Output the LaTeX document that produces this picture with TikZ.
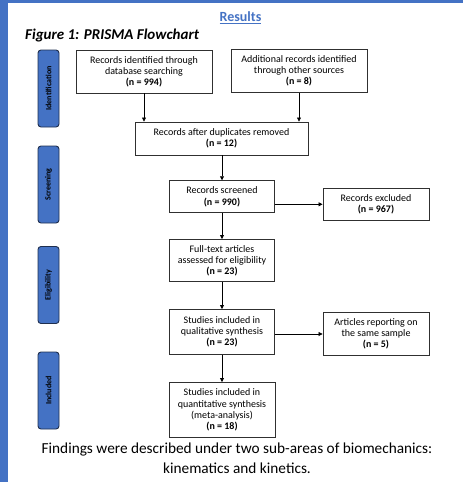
\documentclass[tikz,border=0pt]{standalone}
\usepackage{fontspec}
\setmainfont{Carlito}
\usetikzlibrary{arrows.meta}
\definecolor{slideblue}{HTML}{4472C4}
\definecolor{phaseedge}{HTML}{1F2F4F}
\definecolor{boxedge}{HTML}{303030}
\begin{document}
\begin{tikzpicture}[x=1pt,y=-1pt,
  flowbox/.style={draw=boxedge,line width=0.9pt,fill=white,align=center,
    font=\fontsize{10}{11.2}\selectfont,inner sep=1pt},
  phase/.style={draw=phaseedge,line width=0.9pt,fill=slideblue,rounded corners=3pt,
    minimum width=21pt,minimum height=77pt,inner sep=0pt},
  phasetext/.style={rotate=90,font=\fontsize{8}{9}\selectfont\bfseries,text=black},
  flowarrow/.style={draw=black,line width=0.7pt,-{Triangle[length=4pt,width=4pt]}}]
\useasboundingbox (0,0) rectangle (463,482);
% slide frame
\fill[slideblue] (0,0) rectangle (463,3);
\fill[slideblue] (0,0) rectangle (8,482);
% headings
\node[font=\fontsize{14}{16}\selectfont\bfseries,text=slideblue] (results) at (240.5,17.5) {\underline{Results}};
\node[font=\fontsize{15}{17}\selectfont\bfseries\itshape,anchor=west,inner sep=0pt] (figtitle) at (25,35) {Figure 1: PRISMA Flowchart};
% phase labels
\node[phase] (pid) at (48.5,88.5) {};
\node[phasetext] at (pid.center) {Identification};
\node[phase] (psc) at (48.5,184.5) {};
\node[phasetext] at (psc.center) {Screening};
\node[phase] (pel) at (48.5,285) {};
\node[phasetext] at (pel.center) {Eligibility};
\node[phase] (pin) at (48.5,390.5) {};
\node[phasetext] at (pin.center) {Included};
% flow boxes
\node[flowbox,minimum width=136pt,minimum height=43pt] (a) at (144,71.5)
  {Records identified through\\database searching\\\textbf{(n = 994)}};
\node[flowbox,minimum width=136pt,minimum height=43pt] (b) at (299,71)
  {Additional records identified\\through other sources\\\textbf{(n = 8)}};
\node[flowbox,minimum width=173pt,minimum height=33pt] (c) at (221.5,138.5)
  {Records after duplicates removed\\\textbf{(n = 12)}};
\node[flowbox,minimum width=105pt,minimum height=32pt] (d) at (222,196.7)
  {Records screened\\\textbf{(n = 990)}};
\node[flowbox,minimum width=106pt,minimum height=32pt] (e) at (376,204.3)
  {Records excluded\\\textbf{(n = 967)}};
\node[flowbox,minimum width=105pt,minimum height=42pt] (f) at (222,260.5)
  {Full-text articles\\assessed for eligibility\\\textbf{(n = 23)}};
\node[flowbox,minimum width=105pt,minimum height=45pt] (g) at (222,332)
  {Studies included in\\qualitative synthesis\\\textbf{(n = 23)}};
\node[flowbox,minimum width=106pt,minimum height=43pt] (h) at (376,334)
  {Articles reporting on\\the same sample\\\textbf{(n = 5)}};
\node[flowbox,minimum width=106pt,minimum height=55pt] (i) at (222,410)
  {Studies included in\\quantitative synthesis\\(meta-analysis)\\\textbf{(n = 18)}};
% connectors
\draw[flowarrow] (a.south) -- (a.south |- c.north);
\draw[flowarrow] (b.south) -- (b.south |- c.north);
\draw[flowarrow] (c.south -| d.north) -- (d.north);
\draw[flowarrow] (d.east |- e.west) -- (e.west);
\draw[flowarrow] (d.south) -- (f.north);
\draw[flowarrow] (f.south) -- (g.north);
\draw[flowarrow] (g.east |- h.west) -- (h.west);
\draw[flowarrow] (g.south) -- (i.north);
% closing note
\node[font=\fontsize{15.3}{19.5}\selectfont,align=center] (note) at (237,458)
  {Findings were described under two sub-areas of biomechanics:\\kinematics and kinetics.};
\end{tikzpicture}
\end{document}
